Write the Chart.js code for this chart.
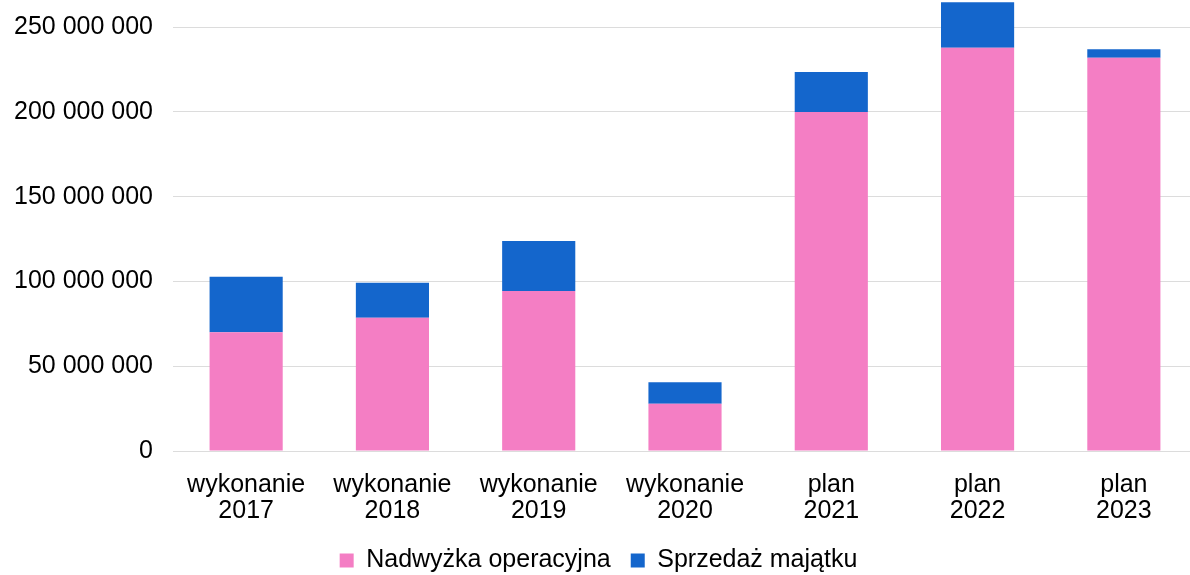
<!DOCTYPE html>
<html lang="pl">
<head>
    <meta charset="UTF-8">
    <title>Nadwyżka operacyjna i sprzedaż majątku</title>
    <script src="https://cdn.jsdelivr.net/npm/chart.js"></script>
    <style>
        html, body { margin: 0; padding: 0; background: #fff; overflow: hidden; }
        #wrap { width: 1190px; height: 575px; overflow: hidden; }
    </style>
</head>
<body>
<div id="wrap"><canvas id="chart" width="1197" height="575"></canvas></div>

<script>
    const categories = [
        ['wykonanie', '2017'], ['wykonanie', '2018'], ['wykonanie', '2019'], ['wykonanie', '2020'],
        ['plan', '2021'], ['plan', '2022'], ['plan', '2023']
    ];
    const nadwyzka = [70000000, 78600000, 94300000, 27900000, 199900000, 237800000, 231900000];
    const sprzedaz = [32800000, 20600000, 29500000, 12600000, 23600000, 26900000, 5000000];
    const yTicks = [0, 50000000, 100000000, 150000000, 200000000, 250000000];

    const fmt = v => String(v).replace(/\B(?=(\d{3})+(?!\d))/g, ' ');

    Chart.defaults.font.family = '"Liberation Sans", Arial, sans-serif';
    Chart.defaults.color = '#000';

    new Chart(document.getElementById('chart'), {
        type: 'bar',
        data: {
            labels: categories,
            datasets: [
                {
                    label: 'Nadwyżka operacyjna',
                    data: nadwyzka,
                    backgroundColor: '#F47EC4'
                },
                {
                    label: 'Sprzedaż majątku',
                    data: sprzedaz,
                    backgroundColor: '#1466CC'
                }
            ]
        },
        options: {
            responsive: false,
            animation: false,
            layout: { padding: { left: 0, right: 0, top: 0, bottom: -8 } },
            datasets: { bar: { categoryPercentage: 1, barPercentage: 0.5 } },
            plugins: {
                legend: {
                    position: 'bottom',
                    labels: {
                        font: { size: 25 },
                        boxWidth: 14,
                        boxHeight: 14,
                        padding: 20
                    }
                },
                tooltip: { enabled: false }
            },
            scales: {
                x: {
                    stacked: true,
                    grid: { display: false },
                    border: { display: false },
                    ticks: { font: { size: 25, lineHeight: 1.04 }, maxRotation: 0, padding: 13 },
                    afterFit: axis => {
                        axis.height = 77;
                        axis.paddingLeft = 0;
                        axis.paddingRight = 0;
                    }
                },
                y: {
                    stacked: true,
                    min: 0,
                    max: 266000000,
                    afterBuildTicks: axis => { axis.ticks = yTicks.map(v => ({ value: v })); },
                    afterFit: axis => {
                        axis.width = 173;
                        axis.paddingTop = 0;
                        axis.paddingBottom = 0;
                    },
                    grid: { color: '#dcdcdc', drawTicks: false },
                    border: { display: false },
                    ticks: {
                        font: { size: 25 },
                        padding: 20,
                        callback: v => fmt(v)
                    }
                }
            }
        }
    });
</script>
</body>
</html>
